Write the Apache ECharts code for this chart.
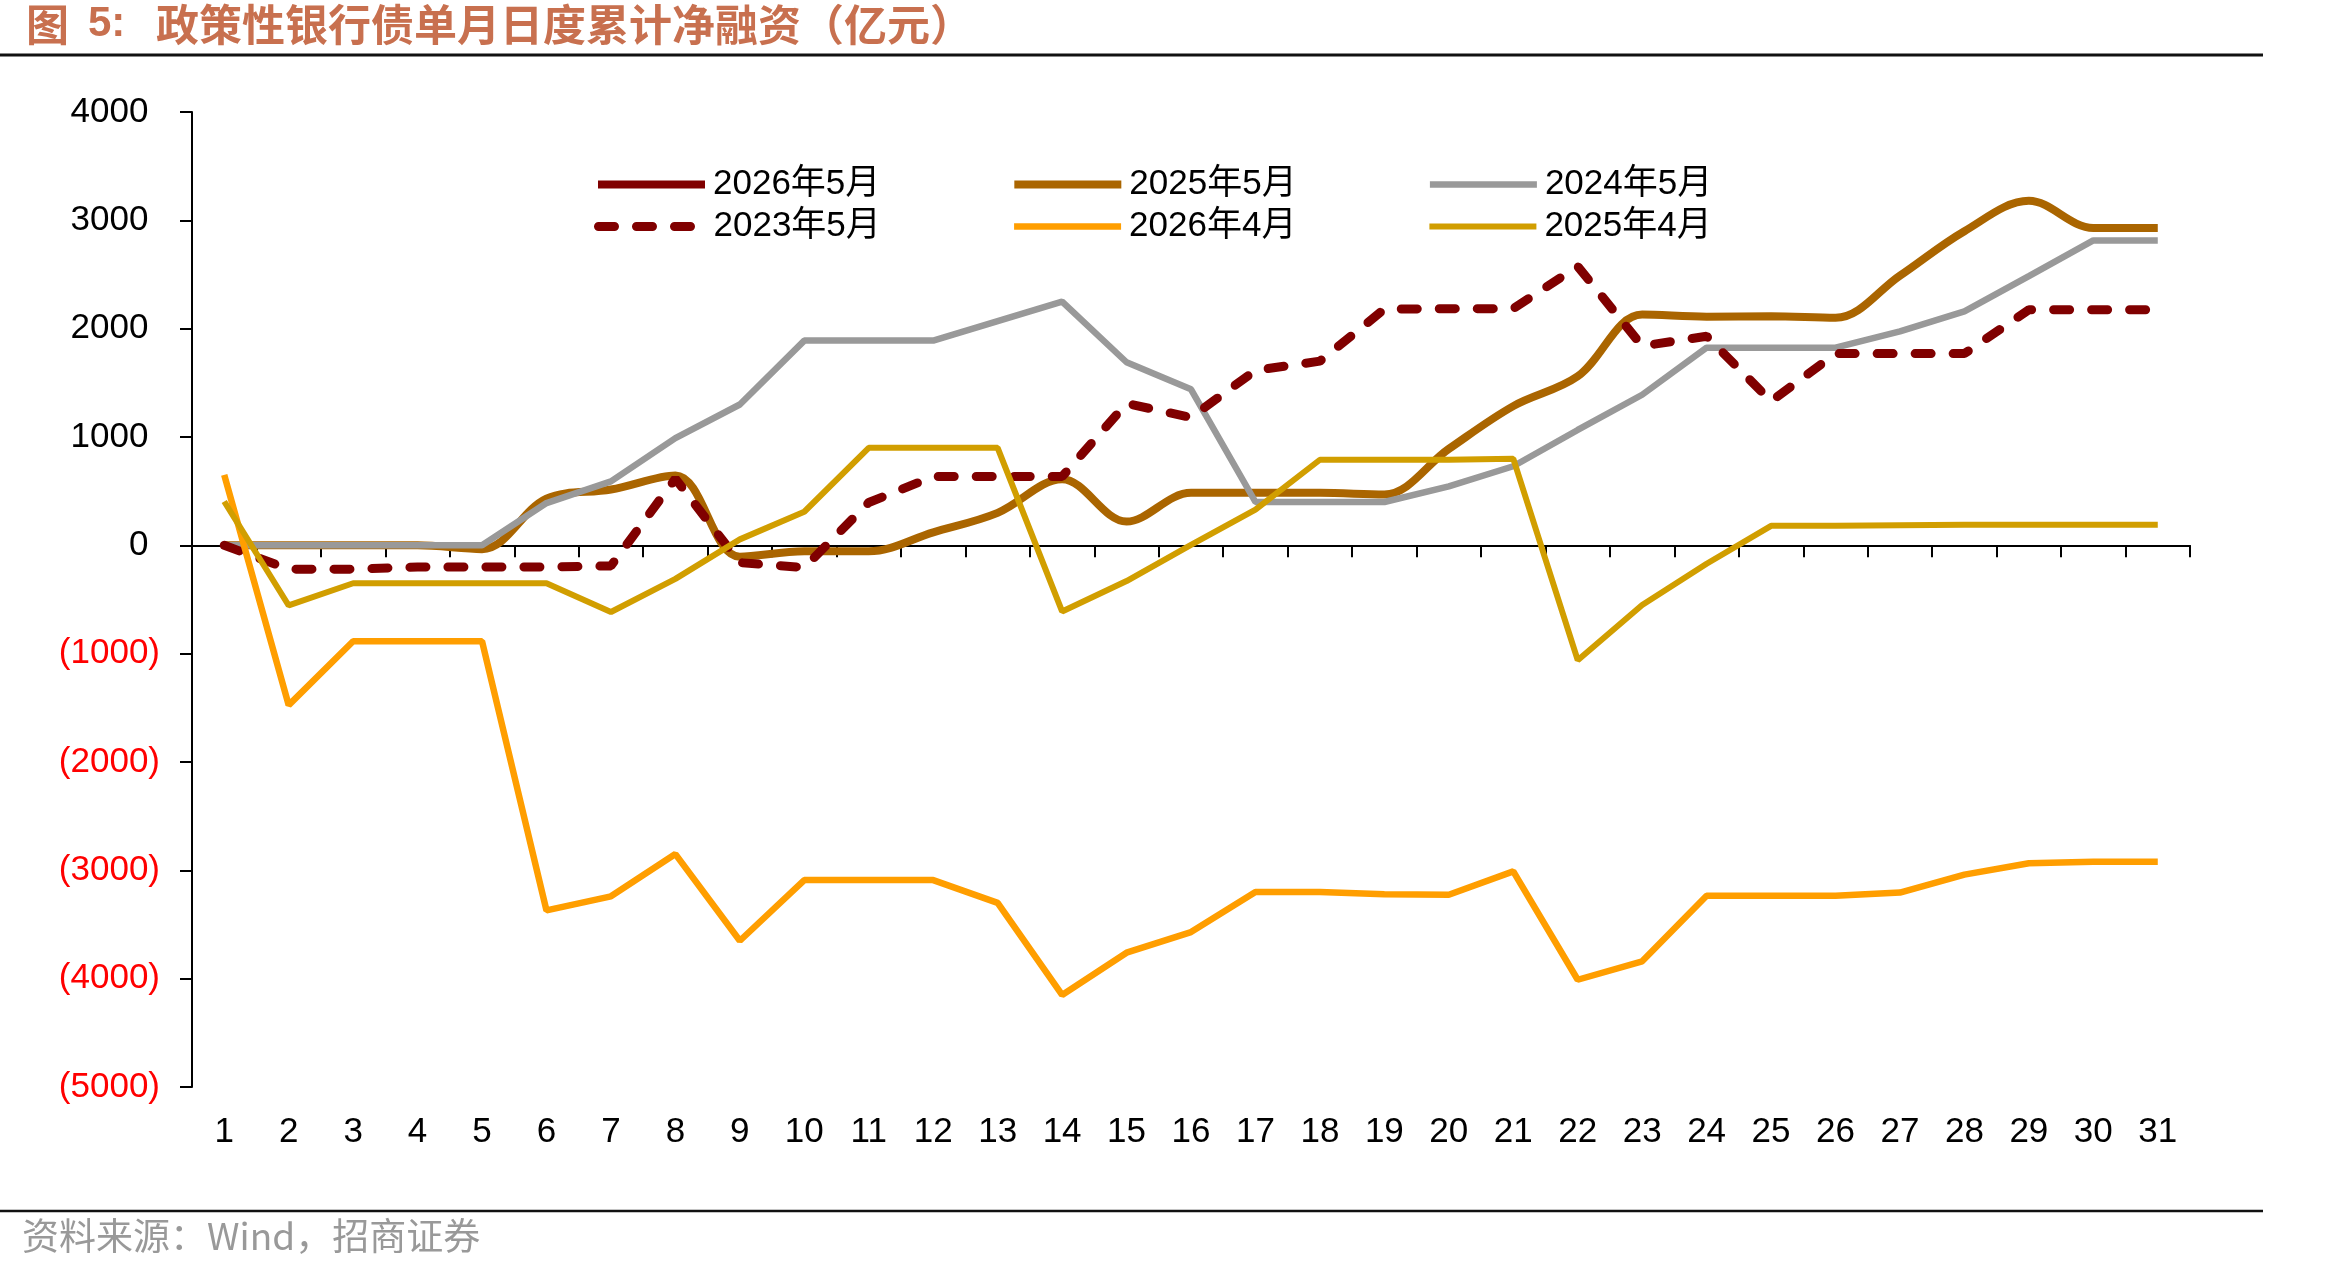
<!DOCTYPE html>
<html>
<head>
<meta charset="utf-8">
<title>政策性银行债单月日度累计净融资</title>
<script src="https://cdn.jsdelivr.net/npm/echarts@6/dist/echarts.min.js"></script>
<style>
  html, body { margin: 0; padding: 0; background: #fff; }
  #chart { width: 2350px; height: 1272px; }
</style>
</head>
<body>
<div id="chart"></div>
<script>
// 日期 1..31
const days = [];
for (let d = 1; d <= 31; d++) days.push(String(d));

// 各月日度累计净融资（亿元），读图估计
const may2026 = [0];
const may2023 = [0, -220, -220, -200, -200, -200, -190, 615, -160, -205, 395, 635, 635, 635, 1310, 1180, 1615, 1700, 2180, 2185, 2185, 2575, 1840, 1930, 1330, 1770, 1770, 1770, 2175, 2175, 2175];
const may2025 = [0, 0, 0, 0, -35, 430, 515, 645, -105, -55, -55, 120, 300, 610, 220, 485, 485, 485, 470, 890, 1285, 1560, 2130, 2110, 2115, 2100, 2490, 2900, 3180, 2930, 2930];
const may2024 = [0, 0, 0, 0, 0, 390, 590, 990, 1300, 1890, 1890, 1890, 2070, 2250, 1690, 1440, 400, 400, 400, 545, 730, 1065, 1390, 1825, 1825, 1825, 1975, 2160, 2485, 2815, 2815];
const apr2026 = [650, -1475, -885, -885, -885, -3370, -3240, -2850, -3650, -3090, -3090, -3090, -3300, -4150, -3760, -3570, -3200, -3200, -3220, -3225, -3010, -4010, -3840, -3235, -3235, -3235, -3205, -3040, -2935, -2920, -2920];
const apr2025 = [405, -555, -350, -350, -350, -350, -615, -310, 55, 310, 900, 900, 900, -610, -330, 5, 330, 790, 790, 790, 800, -1060, -550, -170, 180, 180, 185, 190, 190, 190, 190];

const yTicks = { min: -5000, max: 4000, step: 1000 };

const FONT = "'Liberation Sans', Arial, 'Noto Sans CJK SC', sans-serif";
const TITLE_FONT = "bold 43px 'Noto Sans CJK SC', sans-serif";

const chart = echarts.init(document.getElementById('chart'));

const legendBase = {
    left: 589,
    itemWidth: 107,
    itemHeight: 6,
    itemGap: 130,
    lineStyle: { width: 'inherit' },
    itemStyle: { opacity: 0 },
    textStyle: { fontFamily: FONT, fontSize: 35, color: '#000', padding: [0, 0, 0, 3] },
};

chart.setOption({
    animation: false,
    backgroundColor: '#fff',
    grid: {
        left: 192,
        right: 160,
        top: 112,
        bottom: 185,
    },
    graphic: [
        {
            type: 'text', left: 26, top: 3,
            style: { text: '图', fill: '#C8704F', font: TITLE_FONT },
        },
        {
            type: 'text', left: 88, top: 3,
            style: { text: '5:', fill: '#C8704F', font: "bold 42px 'Liberation Sans', sans-serif" },
        },
        {
            type: 'text', left: 156, top: 3,
            style: { text: '政策性银行债单月日度累计净融资（亿元）', fill: '#C8704F', font: TITLE_FONT },
        },
        {
            type: 'line',
            shape: { x1: 0, y1: 55, x2: 2263, y2: 55 },
            style: { stroke: '#111', lineWidth: 3 },
        },
        {
            type: 'line',
            shape: { x1: 0, y1: 1211, x2: 2263, y2: 1211 },
            style: { stroke: '#111', lineWidth: 2.5 },
        },
        {
            type: 'text',
            left: 22,
            top: 1217,
            style: {
                text: '资料来源：Wind，招商证券',
                fill: '#999',
                font: "37px 'Noto Sans CJK SC', sans-serif",
            },
        },
    ],
    legend: [
        Object.assign({}, legendBase, {
            top: 162,
            data: ['2026年5月', '2025年5月', '2024年5月'],
        }),
        Object.assign({}, legendBase, {
            top: 204,
            data: ['2023年5月', '2026年4月', '2025年4月'],
        }),
    ],
    xAxis: [
        {
            type: 'category',
            data: days,
            position: 'bottom',
            axisLine: { show: false, onZero: false },
            axisTick: { show: false },
            axisLabel: {
                fontFamily: FONT,
                fontSize: 35,
                color: '#000',
                margin: 28,
                interval: 0,
            },
        },
        {
            type: 'category',
            data: days,
            position: 'bottom',
            axisLine: { show: true, onZero: true, lineStyle: { color: '#000', width: 2 } },
            axisTick: { show: true, length: 12, lineStyle: { color: '#000', width: 2 } },
            axisLabel: { show: false },
        },
    ],
    yAxis: {
        type: 'value',
        min: yTicks.min,
        max: yTicks.max,
        interval: yTicks.step,
        splitLine: { show: false },
        axisLine: { show: true, lineStyle: { color: '#000', width: 2 } },
        axisTick: { show: true, length: 12, lineStyle: { color: '#000', width: 2 } },
        axisLabel: {
            margin: 32,
            formatter: function (v) {
                if (v < 0) return '{n|(' + Math.abs(v) + ')}';
                return '{p|' + v + '}{h|)}';
            },
            rich: {
                n: { fontFamily: FONT, fontSize: 35, color: '#FF0000' },
                p: { fontFamily: FONT, fontSize: 35, color: '#000' },
                h: { fontFamily: FONT, fontSize: 35, color: 'rgba(0,0,0,0)' },
            },
        },
    },
    series: [
        {
            name: '2025年5月',
            type: 'line',
            data: may2025,
            smooth: 0.35,
            symbol: 'none',
            itemStyle: { color: '#AA6500' },
            lineStyle: { color: '#AA6500', width: 8 },
        },
        {
            name: '2024年5月',
            type: 'line',
            data: may2024,
            symbol: 'none',
            itemStyle: { color: '#999999' },
            lineStyle: { color: '#999999', width: 6.5 },
        },
        {
            name: '2023年5月',
            type: 'line',
            data: may2023,
            symbol: 'none',
            itemStyle: { color: '#800000' },
            lineStyle: { color: '#800000', width: 9, type: [16, 22], cap: 'round' },
        },
        {
            name: '2026年4月',
            type: 'line',
            data: apr2026,
            symbol: 'none',
            itemStyle: { color: '#FF9E00' },
            lineStyle: { color: '#FF9E00', width: 6.5 },
        },
        {
            name: '2025年4月',
            type: 'line',
            data: apr2025,
            symbol: 'none',
            itemStyle: { color: '#D19E00' },
            lineStyle: { color: '#D19E00', width: 6 },
        },
        {
            name: '2026年5月',
            type: 'line',
            data: may2026,
            symbol: 'none',
            itemStyle: { color: '#800000' },
            lineStyle: { color: '#800000', width: 8 },
        },
    ],
});
</script>
</body>
</html>
